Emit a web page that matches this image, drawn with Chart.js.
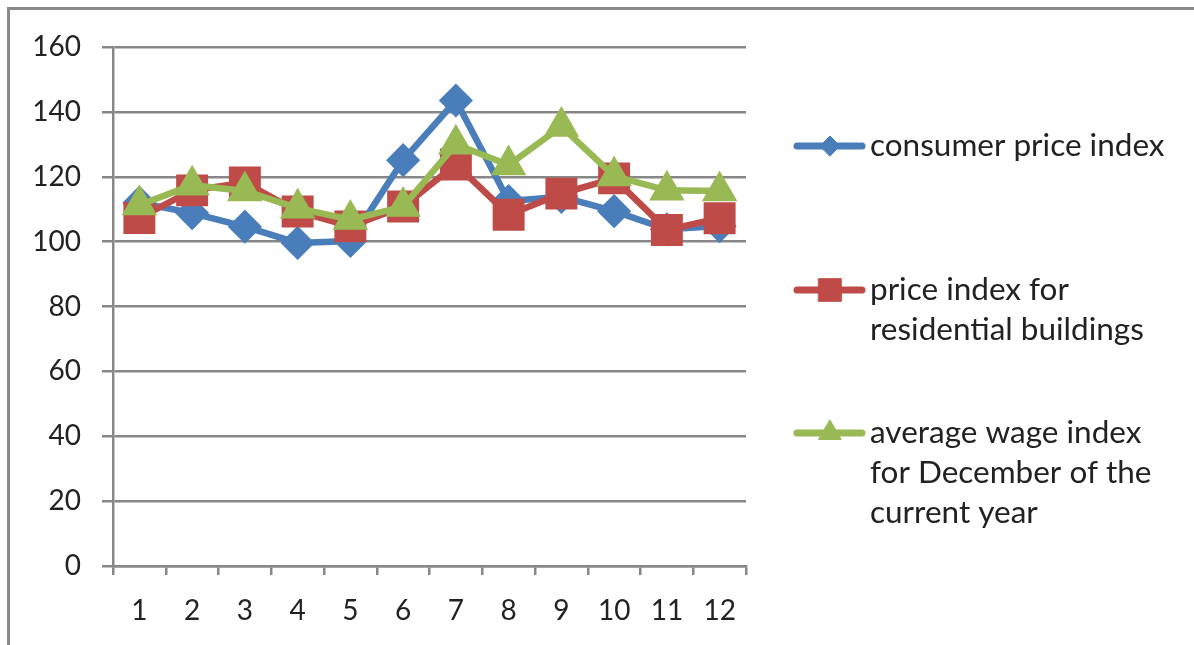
<!DOCTYPE html>
<html>
<head>
<meta charset="utf-8">
<script src="https://cdn.jsdelivr.net/npm/chart.js@4"></script>
<style>
    body { margin: 0; background: #fff; }
    .frame { position: absolute; left: 7px; top: 7px; width: 1190px; height: 640px;
             border-top: 3px solid #8a8a8a; border-left: 3px solid #8a8a8a; }
    #chart { position: absolute; left: 0; top: 0; }
</style>
</head>
<body>
<div class="frame"></div>
<canvas id="chart" width="1194" height="645"></canvas>
<script>
const months = ['1', '2', '3', '4', '5', '6', '7', '8', '9', '10', '11', '12'];

const consumerPrice = [112, 108.8, 104.6, 99.6, 100.2, 125.1, 143.5, 112.5, 113.8, 109.4, 103.8, 104.8];
const residentialPrice = [107.3, 115.8, 118.2, 109.3, 104.7, 110.8, 123.8, 108.3, 114.8, 119.5, 103.6, 107.2];
const averageWage = [111.3, 117.4, 115.6, 110.3, 106.8, 110.8, 130, 123.6, 135.5, 120.2, 115.8, 115.6];

const seriesNames = [
    ['consumer price index'],
    ['price index for', 'residential buildings'],
    ['average wage index', 'for December of the', 'current year']
];
const yTicks = [0, 20, 40, 60, 80, 100, 120, 140, 160];

const gridColor = '#878787';
const textColor = '#222222';

const legendPlugin = {
    id: 'sideLegend',
    afterDraw(chart) {
        const ctx = chart.ctx;
        const rows = [146, 290, 433];
        const datasets = chart.data.datasets;
        ctx.save();
        for (let i = 0; i < datasets.length; i++) {
            const ds = datasets[i];
            const y = rows[i];
            ctx.strokeStyle = ds.borderColor;
            ctx.lineWidth = 7;
            ctx.lineCap = 'round';
            ctx.beginPath();
            ctx.moveTo(797, y);
            ctx.lineTo(862, y);
            ctx.stroke();
            ctx.fillStyle = ds.borderColor;
            ctx.lineWidth = 1;
            Chart.helpers.drawPoint(ctx, {
                pointStyle: ds.pointStyle,
                radius: ds.legendRadius,
                rotation: 0,
                borderWidth: 1
            }, 830, y);
            ctx.fillStyle = textColor;
            ctx.font = '31.5px Lato';
            ctx.textBaseline = 'middle';
            ctx.textAlign = 'left';
            const lines = seriesNames[i];
            for (let j = 0; j < lines.length; j++) {
                ctx.fillText(lines[j], 870, y + j * 40);
            }
        }
        ctx.restore();
    }
};

new Chart(document.getElementById('chart'), {
    type: 'line',
    data: {
        labels: months,
        datasets: [
            {
                label: seriesNames[0].join(' '),
                data: consumerPrice,
                borderColor: '#4a7ebb',
                backgroundColor: '#4a7ebb',
                borderWidth: 6.5,
                pointStyle: 'rectRot',
                pointRadius: 12.5,
                pointHoverRadius: 12.5,
                legendRadius: 10,
                order: 2
            },
            {
                label: seriesNames[1].join(' '),
                data: residentialPrice,
                borderColor: '#be4b48',
                backgroundColor: '#be4b48',
                borderWidth: 6.5,
                pointStyle: 'rect',
                pointRadius: 18,
                pointHoverRadius: 18,
                legendRadius: 16,
                order: 1
            },
            {
                label: seriesNames[2].join(' '),
                data: averageWage,
                borderColor: '#98b954',
                backgroundColor: '#98b954',
                borderWidth: 6.5,
                pointStyle: 'triangle',
                pointRadius: 14,
                pointHoverRadius: 14,
                legendRadius: 13,
                order: 0
            }
        ]
    },
    options: {
        responsive: false,
        animation: false,
        layout: { padding: { left: 0, top: 47, right: 448, bottom: 0 } },
        elements: { line: { tension: 0 }, point: { borderWidth: 1 } },
        plugins: {
            legend: { display: false },
            tooltip: { enabled: false }
        },
        scales: {
            x: {
                offset: true,
                grid: { offset: true, drawOnChartArea: false, drawTicks: true, tickLength: 9, color: gridColor, lineWidth: 2.5 },
                border: { display: true, color: gridColor, width: 2.5 },
                ticks: { color: textColor, font: { family: 'Lato', size: 28 }, padding: 19, maxRotation: 0, autoSkip: false },
                afterFit(scale) { scale.height = 79; }
            },
            y: {
                min: 0,
                max: 160,
                afterBuildTicks(scale) { scale.ticks = yTicks.map(v => ({ value: v })); },
                grid: { color: gridColor, lineWidth: 2.5, tickLength: 11 },
                border: { display: true, color: gridColor, width: 2.5 },
                ticks: { color: textColor, font: { family: 'Lato', size: 28 }, padding: 21 },
                afterFit(scale) { scale.width = 113; }
            }
        }
    },
    plugins: [legendPlugin]
});
</script>
</body>
</html>
